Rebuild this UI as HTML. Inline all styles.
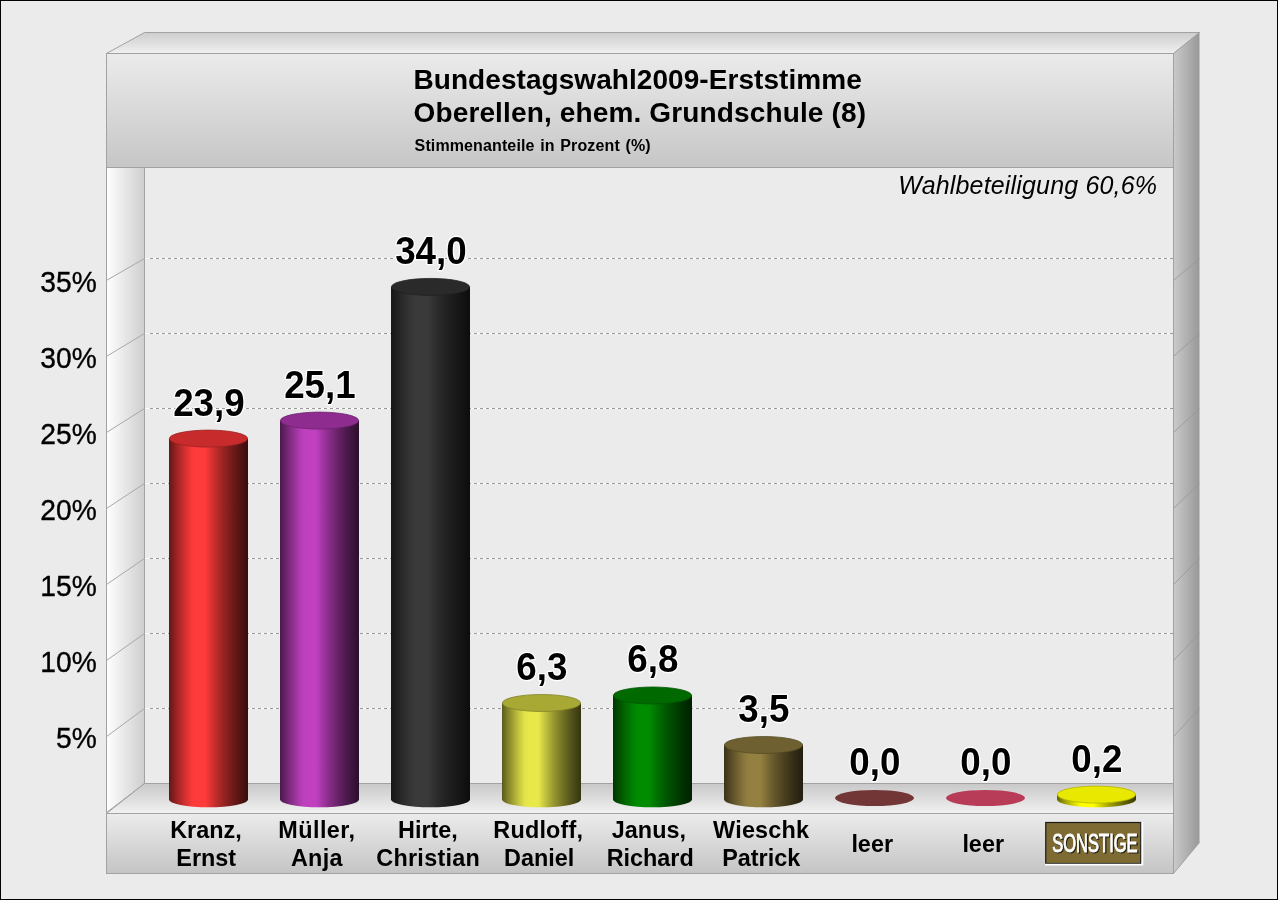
<!DOCTYPE html>
<html lang="de"><head><meta charset="utf-8"><title>Bundestagswahl2009-Erststimme</title>
<style>
html,body{margin:0;padding:0;background:#ebebeb;}
body{width:1278px;height:900px;overflow:hidden;}
svg{display:block;font-family:"Liberation Sans",Arial,sans-serif;}
</style></head><body>
<svg width="1278" height="900" viewBox="0 0 1278 900">
<defs>
<linearGradient id="gHead" x1="0" y1="0" x2="0" y2="1"><stop offset="0" stop-color="#ebebeb"/><stop offset="1" stop-color="#c6c6c6"/></linearGradient>
<linearGradient id="gRoof" x1="0" y1="0" x2="0" y2="1"><stop offset="0" stop-color="#cdcdcd"/><stop offset="1" stop-color="#f0f0f0"/></linearGradient>
<linearGradient id="gLeft" x1="0" y1="0" x2="1" y2="0"><stop offset="0" stop-color="#ffffff"/><stop offset="1" stop-color="#cecece"/></linearGradient>
<linearGradient id="gRight" x1="0" y1="0" x2="1" y2="0"><stop offset="0" stop-color="#cacaca"/><stop offset="1" stop-color="#989898"/></linearGradient>
<linearGradient id="gFloor" x1="0" y1="0" x2="0" y2="1"><stop offset="0" stop-color="#c8c8c8"/><stop offset="1" stop-color="#f2f2f2"/></linearGradient>
<linearGradient id="gStrip" x1="0" y1="0" x2="0" y2="1"><stop offset="0" stop-color="#ececec"/><stop offset="1" stop-color="#c4c4c4"/></linearGradient>
<linearGradient id="b0" x1="0" y1="0" x2="1" y2="0"><stop offset="0" stop-color="#631717"/><stop offset="0.07" stop-color="#8c2020"/><stop offset="0.15" stop-color="#b82a2a"/><stop offset="0.22" stop-color="#db3232"/><stop offset="0.29" stop-color="#fa3939"/><stop offset="0.34" stop-color="#ff3a3a"/><stop offset="0.46" stop-color="#ff3a3a"/><stop offset="0.55" stop-color="#d43030"/><stop offset="0.65" stop-color="#a82626"/><stop offset="0.74" stop-color="#871f1f"/><stop offset="0.85" stop-color="#631717"/><stop offset="0.95" stop-color="#471010"/><stop offset="1" stop-color="#3b0d0d"/></linearGradient>
<linearGradient id="b1" x1="0" y1="0" x2="1" y2="0"><stop offset="0" stop-color="#4b194b"/><stop offset="0.07" stop-color="#6a236a"/><stop offset="0.15" stop-color="#8a2e8a"/><stop offset="0.22" stop-color="#a537a5"/><stop offset="0.29" stop-color="#bc3fbc"/><stop offset="0.34" stop-color="#c040c0"/><stop offset="0.46" stop-color="#c040c0"/><stop offset="0.55" stop-color="#9f359f"/><stop offset="0.65" stop-color="#7f2a7f"/><stop offset="0.74" stop-color="#662266"/><stop offset="0.85" stop-color="#4b194b"/><stop offset="0.95" stop-color="#361236"/><stop offset="1" stop-color="#2c0f2c"/></linearGradient>
<linearGradient id="b2" x1="0" y1="0" x2="1" y2="0"><stop offset="0" stop-color="#171717"/><stop offset="0.07" stop-color="#202020"/><stop offset="0.15" stop-color="#2a2a2a"/><stop offset="0.22" stop-color="#323232"/><stop offset="0.29" stop-color="#393939"/><stop offset="0.34" stop-color="#3a3a3a"/><stop offset="0.46" stop-color="#3a3a3a"/><stop offset="0.55" stop-color="#303030"/><stop offset="0.65" stop-color="#262626"/><stop offset="0.74" stop-color="#1f1f1f"/><stop offset="0.85" stop-color="#171717"/><stop offset="0.95" stop-color="#101010"/><stop offset="1" stop-color="#0d0d0d"/></linearGradient>
<linearGradient id="b3" x1="0" y1="0" x2="1" y2="0"><stop offset="0" stop-color="#5a5a1d"/><stop offset="0.07" stop-color="#808029"/><stop offset="0.15" stop-color="#a7a735"/><stop offset="0.22" stop-color="#c8c840"/><stop offset="0.29" stop-color="#e3e349"/><stop offset="0.34" stop-color="#e8e84a"/><stop offset="0.46" stop-color="#e8e84a"/><stop offset="0.55" stop-color="#c1c13d"/><stop offset="0.65" stop-color="#999931"/><stop offset="0.74" stop-color="#7b7b27"/><stop offset="0.85" stop-color="#5a5a1d"/><stop offset="0.95" stop-color="#414115"/><stop offset="1" stop-color="#353511"/></linearGradient>
<linearGradient id="b4" x1="0" y1="0" x2="1" y2="0"><stop offset="0" stop-color="#003700"/><stop offset="0.07" stop-color="#004d00"/><stop offset="0.15" stop-color="#006500"/><stop offset="0.22" stop-color="#007800"/><stop offset="0.29" stop-color="#008900"/><stop offset="0.34" stop-color="#008c00"/><stop offset="0.46" stop-color="#008c00"/><stop offset="0.55" stop-color="#007400"/><stop offset="0.65" stop-color="#005c00"/><stop offset="0.74" stop-color="#004a00"/><stop offset="0.85" stop-color="#003700"/><stop offset="0.95" stop-color="#002700"/><stop offset="1" stop-color="#002000"/></linearGradient>
<linearGradient id="b5" x1="0" y1="0" x2="1" y2="0"><stop offset="0" stop-color="#3a3219"/><stop offset="0.07" stop-color="#514623"/><stop offset="0.15" stop-color="#6b5c2e"/><stop offset="0.22" stop-color="#7f6e37"/><stop offset="0.29" stop-color="#917d3f"/><stop offset="0.34" stop-color="#948040"/><stop offset="0.46" stop-color="#948040"/><stop offset="0.55" stop-color="#7b6a35"/><stop offset="0.65" stop-color="#62542a"/><stop offset="0.74" stop-color="#4e4422"/><stop offset="0.85" stop-color="#3a3219"/><stop offset="0.95" stop-color="#292412"/><stop offset="1" stop-color="#221d0f"/></linearGradient>
<linearGradient id="b6" x1="0" y1="0" x2="1" y2="0"><stop offset="0" stop-color="#2d1515"/><stop offset="0.07" stop-color="#3f1e1e"/><stop offset="0.15" stop-color="#532727"/><stop offset="0.22" stop-color="#632e2e"/><stop offset="0.29" stop-color="#713535"/><stop offset="0.34" stop-color="#733636"/><stop offset="0.46" stop-color="#733636"/><stop offset="0.55" stop-color="#5f2d2d"/><stop offset="0.65" stop-color="#4c2424"/><stop offset="0.74" stop-color="#3d1d1d"/><stop offset="0.85" stop-color="#2d1515"/><stop offset="0.95" stop-color="#200f0f"/><stop offset="1" stop-color="#1a0c0c"/></linearGradient>
<linearGradient id="b7" x1="0" y1="0" x2="1" y2="0"><stop offset="0" stop-color="#481722"/><stop offset="0.07" stop-color="#652130"/><stop offset="0.15" stop-color="#842b3f"/><stop offset="0.22" stop-color="#9e344c"/><stop offset="0.29" stop-color="#b43b56"/><stop offset="0.34" stop-color="#b83c58"/><stop offset="0.46" stop-color="#b83c58"/><stop offset="0.55" stop-color="#993249"/><stop offset="0.65" stop-color="#79283a"/><stop offset="0.74" stop-color="#62202f"/><stop offset="0.85" stop-color="#481722"/><stop offset="0.95" stop-color="#341119"/><stop offset="1" stop-color="#2a0e14"/></linearGradient>
<linearGradient id="b8" x1="0" y1="0" x2="1" y2="0"><stop offset="0" stop-color="#636300"/><stop offset="0.07" stop-color="#8c8c00"/><stop offset="0.15" stop-color="#b8b800"/><stop offset="0.22" stop-color="#dbdb00"/><stop offset="0.29" stop-color="#fafa00"/><stop offset="0.34" stop-color="#ffff00"/><stop offset="0.46" stop-color="#ffff00"/><stop offset="0.55" stop-color="#d4d400"/><stop offset="0.65" stop-color="#a8a800"/><stop offset="0.74" stop-color="#878700"/><stop offset="0.85" stop-color="#636300"/><stop offset="0.95" stop-color="#474700"/><stop offset="1" stop-color="#3b3b00"/></linearGradient>
</defs>
<rect x="0" y="0" width="1278" height="900" fill="#000"/>
<rect x="1" y="1" width="1276" height="898" fill="#ebebeb"/>
<polygon points="106.5,53.5 144.5,32.5 1199.5,32.5 1173.5,53.5" fill="url(#gRoof)" stroke="#a2a2a2" stroke-width="1"/>
<polygon points="1173.5,53.5 1199.5,32.5 1199.5,842.5 1173.5,873.5" fill="url(#gRight)"/>
<path d="M1199.5,32.5 L1173.5,53.5 V873.5 L1199.5,842.5" fill="none" stroke="#a2a2a2" stroke-width="1"/>
<rect x="145" y="167" width="1028" height="617" fill="#ebebeb"/>
<polygon points="106.5,167.5 144.5,167.5 144.5,783.5 106.5,812.6" fill="url(#gLeft)" stroke="#a2a2a2" stroke-width="1"/>
<polygon points="144.5,783.5 1173.5,783.5 1173.5,813.5 106.5,813.5" fill="url(#gFloor)" stroke="#a2a2a2" stroke-width="1"/>
<line x1="145" y1="708.5" x2="1173" y2="708.5" stroke="#fff" stroke-width="1"/>
<line x1="150" y1="708.5" x2="1173" y2="708.5" stroke="#999" stroke-width="1" stroke-dasharray="3,3"/>
<line x1="106.5" y1="736.6" x2="144.5" y2="708.5" stroke="#a8a8a8" stroke-width="1"/>
<line x1="1173.5" y1="736.6" x2="1199.5" y2="708.5" stroke="#969696" stroke-width="0.8"/>
<line x1="145" y1="633.5" x2="1173" y2="633.5" stroke="#fff" stroke-width="1"/>
<line x1="150" y1="633.5" x2="1173" y2="633.5" stroke="#999" stroke-width="1" stroke-dasharray="3,3"/>
<line x1="106.5" y1="660.5" x2="144.5" y2="633.5" stroke="#a8a8a8" stroke-width="1"/>
<line x1="1173.5" y1="660.5" x2="1199.5" y2="633.5" stroke="#969696" stroke-width="0.8"/>
<line x1="145" y1="558.5" x2="1173" y2="558.5" stroke="#fff" stroke-width="1"/>
<line x1="150" y1="558.5" x2="1173" y2="558.5" stroke="#999" stroke-width="1" stroke-dasharray="3,3"/>
<line x1="106.5" y1="584.5" x2="144.5" y2="558.5" stroke="#a8a8a8" stroke-width="1"/>
<line x1="1173.5" y1="584.5" x2="1199.5" y2="558.5" stroke="#969696" stroke-width="0.8"/>
<line x1="145" y1="483.5" x2="1173" y2="483.5" stroke="#fff" stroke-width="1"/>
<line x1="150" y1="483.5" x2="1173" y2="483.5" stroke="#999" stroke-width="1" stroke-dasharray="3,3"/>
<line x1="106.5" y1="508.5" x2="144.5" y2="483.5" stroke="#a8a8a8" stroke-width="1"/>
<line x1="1173.5" y1="508.5" x2="1199.5" y2="483.5" stroke="#969696" stroke-width="0.8"/>
<line x1="145" y1="408.5" x2="1173" y2="408.5" stroke="#fff" stroke-width="1"/>
<line x1="150" y1="408.5" x2="1173" y2="408.5" stroke="#999" stroke-width="1" stroke-dasharray="3,3"/>
<line x1="106.5" y1="432.5" x2="144.5" y2="408.5" stroke="#a8a8a8" stroke-width="1"/>
<line x1="1173.5" y1="432.5" x2="1199.5" y2="408.5" stroke="#969696" stroke-width="0.8"/>
<line x1="145" y1="333.5" x2="1173" y2="333.5" stroke="#fff" stroke-width="1"/>
<line x1="150" y1="333.5" x2="1173" y2="333.5" stroke="#999" stroke-width="1" stroke-dasharray="3,3"/>
<line x1="106.5" y1="356.4" x2="144.5" y2="333.5" stroke="#a8a8a8" stroke-width="1"/>
<line x1="1173.5" y1="356.4" x2="1199.5" y2="333.5" stroke="#969696" stroke-width="0.8"/>
<line x1="145" y1="258.5" x2="1173" y2="258.5" stroke="#fff" stroke-width="1"/>
<line x1="150" y1="258.5" x2="1173" y2="258.5" stroke="#999" stroke-width="1" stroke-dasharray="3,3"/>
<line x1="106.5" y1="280.4" x2="144.5" y2="258.5" stroke="#a8a8a8" stroke-width="1"/>
<line x1="1173.5" y1="280.4" x2="1199.5" y2="258.5" stroke="#969696" stroke-width="0.8"/>
<rect x="106.5" y="53.5" width="1067" height="114" fill="url(#gHead)" stroke="#a2a2a2" stroke-width="1"/>
<rect x="106.5" y="813.5" width="1067" height="60" fill="url(#gStrip)" stroke="#a2a2a2" stroke-width="1"/>
<text transform="translate(96.8,747.9) scale(0.94,1)" x="0" y="0" font-size="30" text-anchor="end" fill="#000" stroke="#000" stroke-width="0.35">5%</text>
<text transform="translate(96.8,671.8) scale(0.94,1)" x="0" y="0" font-size="30" text-anchor="end" fill="#000" stroke="#000" stroke-width="0.35">10%</text>
<text transform="translate(96.8,595.8) scale(0.94,1)" x="0" y="0" font-size="30" text-anchor="end" fill="#000" stroke="#000" stroke-width="0.35">15%</text>
<text transform="translate(96.8,519.8) scale(0.94,1)" x="0" y="0" font-size="30" text-anchor="end" fill="#000" stroke="#000" stroke-width="0.35">20%</text>
<text transform="translate(96.8,443.8) scale(0.94,1)" x="0" y="0" font-size="30" text-anchor="end" fill="#000" stroke="#000" stroke-width="0.35">25%</text>
<text transform="translate(96.8,367.7) scale(0.94,1)" x="0" y="0" font-size="30" text-anchor="end" fill="#000" stroke="#000" stroke-width="0.35">30%</text>
<text transform="translate(96.8,291.7) scale(0.94,1)" x="0" y="0" font-size="30" text-anchor="end" fill="#000" stroke="#000" stroke-width="0.35">35%</text>
<text x="413.5" y="89" font-size="28" font-weight="bold" letter-spacing="0.06" fill="#000">Bundestagswahl2009-Erststimme</text>
<text x="413.5" y="122" font-size="28" font-weight="bold" letter-spacing="0.14" fill="#000">Oberellen, ehem. Grundschule (8)</text>
<text x="414.6" y="150.5" font-size="16" font-weight="bold" letter-spacing="0.12" word-spacing="1.1" fill="#000">Stimmenanteile in Prozent (%)</text>
<text x="1157.2" y="194" font-size="25" font-style="italic" letter-spacing="0.17" text-anchor="end" fill="#000">Wahlbeteiligung 60,6%</text>
<path d="M169,438.6 L169,799.5 A39.5,7.8 0 0 0 248,799.5 L248,438.6 Z" fill="url(#b0)"/>
<ellipse cx="208.5" cy="438.6" rx="39.1" ry="8.5" fill="#c82b2b" stroke="#9c2222" stroke-width="0.8"/>
<text transform="translate(208.90,415.5) scale(0.955,1)" x="0" y="0" font-size="38.5" font-weight="bold" text-anchor="middle" fill="#000" stroke="#fff" stroke-width="2.6" stroke-linejoin="round" paint-order="stroke">23,9</text>
<text x="205.90" y="837.8" font-size="23.4" font-weight="bold" letter-spacing="0" text-anchor="middle" fill="#000">Kranz,</text>
<text x="206.20" y="865.5" font-size="23.4" font-weight="bold" letter-spacing="0" text-anchor="middle" fill="#000">Ernst</text>
<path d="M280,420.6 L280,799.5 A39.5,7.8 0 0 0 359,799.5 L359,420.6 Z" fill="url(#b1)"/>
<ellipse cx="319.5" cy="420.6" rx="39.1" ry="8.5" fill="#8e2c90" stroke="#6f2270" stroke-width="0.8"/>
<text transform="translate(319.90,397.5) scale(0.955,1)" x="0" y="0" font-size="38.5" font-weight="bold" text-anchor="middle" fill="#000" stroke="#fff" stroke-width="2.6" stroke-linejoin="round" paint-order="stroke">25,1</text>
<text x="316.90" y="837.8" font-size="23.4" font-weight="bold" letter-spacing="0.45" text-anchor="middle" fill="#000">Müller,</text>
<text x="316.80" y="865.5" font-size="23.4" font-weight="bold" letter-spacing="0.25" text-anchor="middle" fill="#000">Anja</text>
<path d="M391,286.9 L391,799.5 A39.5,7.8 0 0 0 470,799.5 L470,286.9 Z" fill="url(#b2)"/>
<ellipse cx="430.5" cy="286.9" rx="39.1" ry="8.5" fill="#2a2a2a" stroke="#212121" stroke-width="0.8"/>
<text transform="translate(430.90,263.8) scale(0.955,1)" x="0" y="0" font-size="38.5" font-weight="bold" text-anchor="middle" fill="#000" stroke="#fff" stroke-width="2.6" stroke-linejoin="round" paint-order="stroke">34,0</text>
<text x="427.90" y="837.8" font-size="23.4" font-weight="bold" letter-spacing="0" text-anchor="middle" fill="#000">Hirte,</text>
<text x="428.20" y="865.5" font-size="23.4" font-weight="bold" letter-spacing="0.28" text-anchor="middle" fill="#000">Christian</text>
<path d="M502,703.0 L502,799.5 A39.5,7.8 0 0 0 581,799.5 L581,703.0 Z" fill="url(#b3)"/>
<ellipse cx="541.5" cy="703.0" rx="39.1" ry="8.5" fill="#a8a834" stroke="#838329" stroke-width="0.8"/>
<text transform="translate(541.90,679.9) scale(0.955,1)" x="0" y="0" font-size="38.5" font-weight="bold" text-anchor="middle" fill="#000" stroke="#fff" stroke-width="2.6" stroke-linejoin="round" paint-order="stroke">6,3</text>
<text x="538.30" y="837.8" font-size="23.4" font-weight="bold" letter-spacing="0.2" text-anchor="middle" fill="#000">Rudloff,</text>
<text x="539.20" y="865.5" font-size="23.4" font-weight="bold" letter-spacing="0" text-anchor="middle" fill="#000">Daniel</text>
<path d="M613,695.5 L613,799.5 A39.5,7.8 0 0 0 692,799.5 L692,695.5 Z" fill="url(#b4)"/>
<ellipse cx="652.5" cy="695.5" rx="39.1" ry="8.5" fill="#006a00" stroke="#005300" stroke-width="0.8"/>
<text transform="translate(652.90,672.4) scale(0.955,1)" x="0" y="0" font-size="38.5" font-weight="bold" text-anchor="middle" fill="#000" stroke="#fff" stroke-width="2.6" stroke-linejoin="round" paint-order="stroke">6,8</text>
<text x="648.90" y="837.8" font-size="23.4" font-weight="bold" letter-spacing="0" text-anchor="middle" fill="#000">Janus,</text>
<text x="650.20" y="865.5" font-size="23.4" font-weight="bold" letter-spacing="0" text-anchor="middle" fill="#000">Richard</text>
<path d="M724,745.0 L724,799.5 A39.5,7.8 0 0 0 803,799.5 L803,745.0 Z" fill="url(#b5)"/>
<ellipse cx="763.5" cy="745.0" rx="39.1" ry="8.5" fill="#6e6030" stroke="#564b25" stroke-width="0.8"/>
<text transform="translate(763.90,721.9) scale(0.955,1)" x="0" y="0" font-size="38.5" font-weight="bold" text-anchor="middle" fill="#000" stroke="#fff" stroke-width="2.6" stroke-linejoin="round" paint-order="stroke">3,5</text>
<text x="761.20" y="837.8" font-size="23.4" font-weight="bold" letter-spacing="0.22" text-anchor="middle" fill="#000">Wieschk</text>
<text x="761.20" y="865.5" font-size="23.4" font-weight="bold" letter-spacing="0" text-anchor="middle" fill="#000">Patrick</text>
<ellipse cx="874.5" cy="798" rx="39.5" ry="8" fill="#733636"/>
<text transform="translate(874.90,774.5) scale(0.955,1)" x="0" y="0" font-size="38.5" font-weight="bold" text-anchor="middle" fill="#000" stroke="#fff" stroke-width="2.6" stroke-linejoin="round" paint-order="stroke">0,0</text>
<text x="872.2" y="851.5" font-size="23.4" font-weight="bold" text-anchor="middle" fill="#000">leer</text>
<ellipse cx="985.5" cy="798" rx="39.5" ry="8" fill="#b83c58"/>
<text transform="translate(985.90,774.5) scale(0.955,1)" x="0" y="0" font-size="38.5" font-weight="bold" text-anchor="middle" fill="#000" stroke="#fff" stroke-width="2.6" stroke-linejoin="round" paint-order="stroke">0,0</text>
<text x="983.2" y="851.5" font-size="23.4" font-weight="bold" text-anchor="middle" fill="#000">leer</text>
<path d="M1057,794.6 L1057,799.5 A39.5,7.8 0 0 0 1136,799.5 L1136,794.6 Z" fill="url(#b8)"/>
<ellipse cx="1096.5" cy="794.6" rx="39.1" ry="8.5" fill="#e8e800" stroke="#b5b500" stroke-width="0.8"/>
<text transform="translate(1096.90,771.5) scale(0.955,1)" x="0" y="0" font-size="38.5" font-weight="bold" text-anchor="middle" fill="#000" stroke="#fff" stroke-width="2.6" stroke-linejoin="round" paint-order="stroke">0,2</text>
<rect x="1045.75" y="822.5" width="95" height="41" fill="#7d6b33" stroke="#1a1a1a" stroke-width="1.2"/>
<path d="M1045,864.6 H1142.4 V822" fill="none" stroke="#fff" stroke-width="1.7"/>
<text x="1096.0" y="853.3" font-size="26" text-anchor="middle" textLength="85.5" lengthAdjust="spacingAndGlyphs" fill="#1e1a0c" stroke="#1e1a0c" stroke-width="1" style="vector-effect:non-scaling-stroke">SONSTIGE</text>
<text x="1094.9" y="852.1" font-size="26" text-anchor="middle" textLength="85.5" lengthAdjust="spacingAndGlyphs" fill="#fff" stroke="#fff" stroke-width="1" style="vector-effect:non-scaling-stroke">SONSTIGE</text>
</svg></body></html>
